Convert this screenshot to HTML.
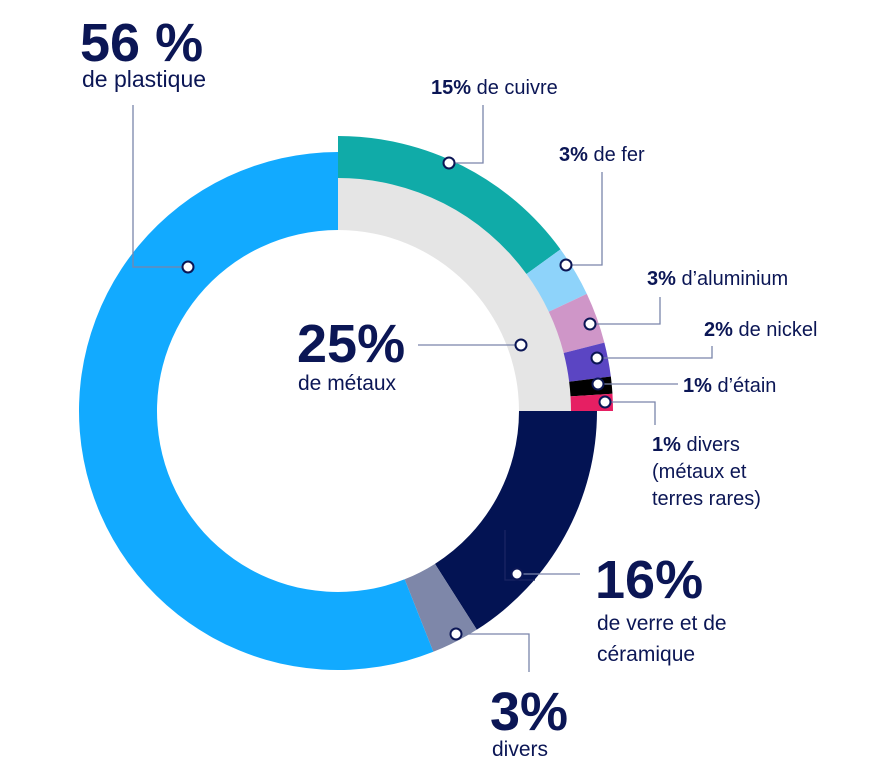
<!DOCTYPE html>
<html><head><meta charset="utf-8">
<style>
html,body{margin:0;padding:0;background:#fff;}
body{width:882px;height:778px;overflow:hidden;font-family:"Liberation Sans",sans-serif;}
svg text{font-family:"Liberation Sans",sans-serif;fill:#0b1655;}
</style></head>
<body>
<svg id="chart" width="882" height="778" viewBox="0 0 882 778" xmlns="http://www.w3.org/2000/svg">
  <g id="main-ring"></g>
  <g id="metal-ring"></g>
  <g id="leaders" stroke="#7a85ab" stroke-width="1.3" fill="none">
    <polyline points="133,105 133,267 188,267"/>
    <polyline points="483,105 483,163 449,163"/>
    <polyline points="602,172 602,265 566,265"/>
    <polyline points="590,324 660,324 660,297"/>
    <polyline points="597,358 712,358 712,346"/>
    <polyline points="598,384 678,384"/>
    <polyline points="605,402 655,402 655,425"/>
    <polyline points="418,345 521,345"/>
    <polyline points="517,574 580,574"/>
    <polyline stroke="#1a2563" points="505,530 505,580 535,580"/>
    <polyline points="456,634 529,634 529,672"/>
  </g>
  <g id="dots"></g>
  <g>
    <text x="80" y="61" font-size="54" font-weight="bold">56 %</text>
    <text x="82" y="87" font-size="23">de plastique</text>
    <text x="431" y="94" font-size="20"><tspan font-weight="bold">15%</tspan> de cuivre</text>
    <text x="559" y="161" font-size="20"><tspan font-weight="bold">3%</tspan> de fer</text>
    <text x="647" y="285" font-size="20"><tspan font-weight="bold">3%</tspan> d’aluminium</text>
    <text x="704" y="336" font-size="20"><tspan font-weight="bold">2%</tspan> de nickel</text>
    <text x="683" y="392" font-size="20"><tspan font-weight="bold">1%</tspan> d’étain</text>
    <text x="652" y="451" font-size="20"><tspan font-weight="bold">1%</tspan> divers<tspan x="652" dy="27">(métaux et</tspan><tspan x="652" dy="27">terres rares)</tspan></text>
    <text x="297" y="362" font-size="54" font-weight="bold">25%</text>
    <text x="298" y="390" font-size="21">de métaux</text>
    <text x="595" y="598" font-size="54" font-weight="bold">16%</text>
    <text x="597" y="630" font-size="21">de verre et de<tspan x="597" dy="31">céramique</tspan></text>
    <text x="490" y="730" font-size="54" font-weight="bold">3%</text>
    <text x="492" y="756" font-size="21">divers</text>
  </g>
</svg>
<script>
const mainCategories = ["métaux", "verre et céramique", "divers", "plastique"];
const mainValues = [25, 16, 3, 56];
const mainColors = ["#e5e5e5", "#031353", "#7e87a9", "#12aaff"];
const metalCategories = ["cuivre", "fer", "aluminium", "nickel", "étain", "divers"];
const metalValues = [15, 3, 3, 2, 1, 1];
const metalColors = ["#10aba8", "#8ed3fa", "#cf96c8", "#5b45c3", "#000000", "#e61f63"];

const NS = "http://www.w3.org/2000/svg";
const cx = 338, cy = 411;
const mainTotal = mainValues.reduce((a, b) => a + b, 0);
function angle(v) { return v / mainTotal * 2 * Math.PI; }
function pt(r, a) { return [cx + r * Math.sin(a), cy - r * Math.cos(a)]; }
function arcPath(r0, r1, a0, a1) {
  const large = (a1 - a0) > Math.PI ? 1 : 0;
  const p0 = pt(r1, a0), p1 = pt(r1, a1), p2 = pt(r0, a1), p3 = pt(r0, a0);
  return `M${p0[0]},${p0[1]} A${r1},${r1} 0 ${large} 1 ${p1[0]},${p1[1]} L${p2[0]},${p2[1]} A${r0},${r0} 0 ${large} 0 ${p3[0]},${p3[1]} Z`;
}
function addDot(x, y) {
  const c = document.createElementNS(NS, "circle");
  
  
  c.setAttribute("cx", x); c.setAttribute("cy", y); c.setAttribute("r", 5.5);
  c.setAttribute("fill", "#fff"); c.setAttribute("stroke", "#0b1655"); c.setAttribute("stroke-width", 2);
  document.getElementById("dots").appendChild(c);
}
const mainG = document.getElementById("main-ring");
let acc = 0;
mainValues.forEach((v, i) => {
  const a0 = angle(acc), a1 = angle(acc + v);
  acc += v;
  const p = document.createElementNS(NS, "path");
  
  
  p.setAttribute("d", arcPath(181, i === 0 ? 234 : 259, a0, a1));
  p.setAttribute("fill", mainColors[i]);
  mainG.appendChild(p);
});
const metalG = document.getElementById("metal-ring");
let macc = 0;
metalValues.forEach((v, i) => {
  const a0 = angle(macc), a1 = angle(macc + v);
  macc += v;
  const p = document.createElementNS(NS, "path");
  
  
  p.setAttribute("d", arcPath(233, 275, a0, a1));
  p.setAttribute("fill", metalColors[i]);
  metalG.appendChild(p);
});
// leader dots
[[188,267],[449,163],[566,265],[590,324],[597,358],[598,384],[605,402],[521,345],[517,574],[456,634]].forEach(d => addDot(d[0], d[1]));
</script>
</body></html>
